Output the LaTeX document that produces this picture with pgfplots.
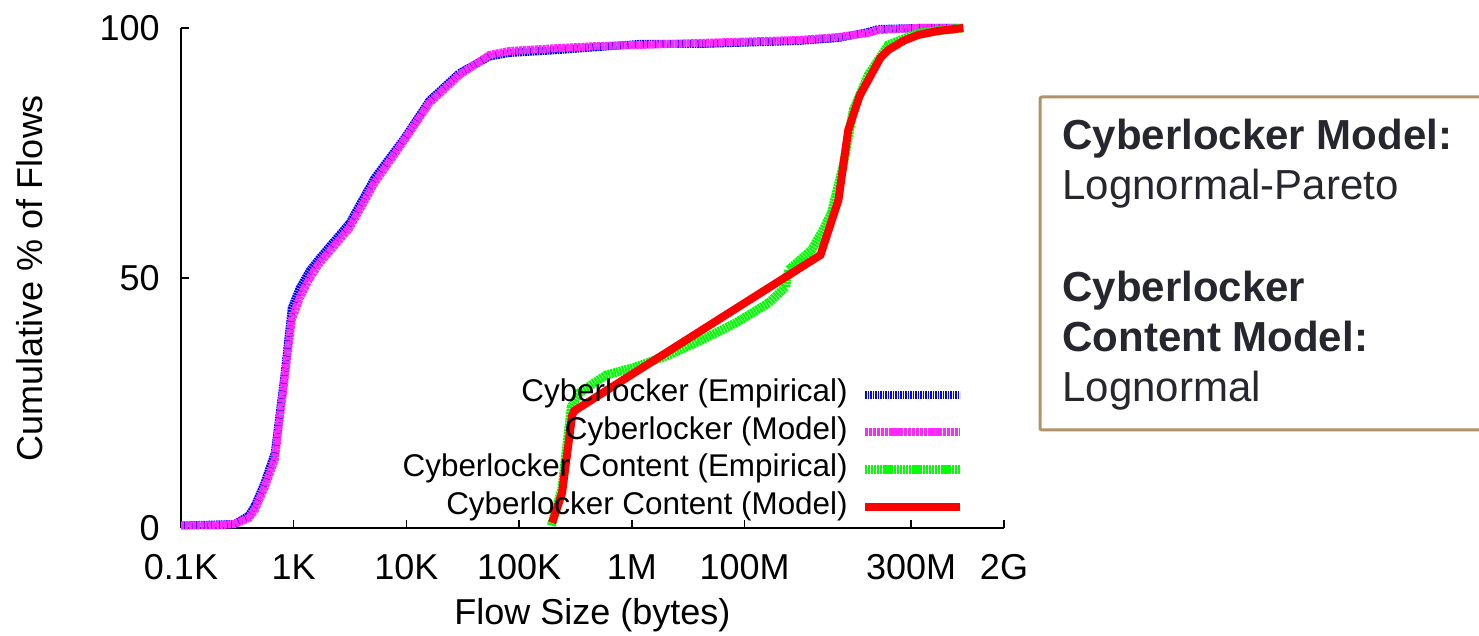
\documentclass[border=0pt]{standalone}
\usepackage{fontspec}
\setmainfont{Liberation Sans}
\usepackage{pgfplots}
\pgfplotsset{compat=1.18}
\definecolor{boxbrown}{RGB}{176,146,104}
\definecolor{boxtext}{RGB}{38,38,46}
\definecolor{cblue}{RGB}{0,0,255}
\definecolor{cmag}{RGB}{255,40,255}
\definecolor{cgreen}{RGB}{0,255,0}
\definecolor{cred}{RGB}{255,0,0}
\begin{document}
\begin{tikzpicture}
\begin{axis}[
  scale only axis, width=411.5pt, height=250pt,
  xmode=log, xmin=100, xmax=2e9, ymin=0, ymax=100,
  clip=false,
  axis x line*=bottom, axis y line*=left,
  axis line style={line width=0.75pt,-},
  tick style={line width=0.75pt,black},
  tick align=inside, major tick length=4pt,
  xminorticks=false, yminorticks=false,
  xtick={1e2,1e3,1e4,1e5,1e6,1e7,3e8,2e9},
  xticklabels={0.1K,1K,10K,100K,1M,100M,300M,2G},
  ytick={0,50,100}, yticklabels={0,50,100},
  /pgf/number format/assume math mode=true,
  tick label style={font=\fontsize{18}{20}\selectfont, inner sep=0pt},
  xticklabel style={anchor=base, yshift=-26pt},
  yticklabel style={anchor=east, xshift=-10.5pt},
  xlabel={Flow Size (bytes)}, ylabel={Cumulative \% of Flows},
  label style={font=\fontsize{18}{20}\selectfont},
  xlabel style={at={(axis description cs:0.5,0)}, anchor=center, yshift=-43.5pt},
  ylabel style={at={(axis description cs:-0.1835,0.5)}, anchor=center},
  legend plot pos=right, legend cell align=right,
  legend image code/.code={\path (0pt,0pt); \draw[#1] (6.5pt,0pt) -- (54pt,0pt);},
  legend style={font=\fontsize{15.7}{18}\selectfont, draw=none, fill=none,
    inner sep=0pt, row sep=2.8pt,
    nodes={inner sep=0pt, text height=11.5pt, text depth=4.5pt},
    at={(rel axis cs:0.9527,0.0084)}, anchor=south east},
]
\addplot[cblue, line width=4pt, dash pattern=on 0.9pt off 0.35pt] coordinates {
(100,0.5) (300,0.8) (400,2.5) (452,4.5) (550,9) (679,15) (832,31) (960,44)
(1130,48) (1387,51.5) (1700,54) (3130,61) (5210,70) (9600,78) (16000,85.5)
(29500,91) (54400,94.3) (81700,95) (226000,95.6) (510000,96.2) (1.15e6,96.8)
(3.92e6,96.8) (3.0e7,97.4) (6.8e7,98) (1.25e8,99.2) (1.53e8,99.8) (3.47e8,100) (7.8e8,100)
};
\addlegendentry{Cyberlocker (Empirical)}
\addplot[cmag, line width=4pt, dash pattern=on 1.6pt off 0.35pt] coordinates {
(100,0.5) (200,0.5) (300,0.8) (400,2) (452,3.6) (550,8) (679,13.6) (832,30)
(960,41.6) (1130,46) (1387,50) (1700,53) (3130,60) (5210,69) (9600,77.6)
(16000,85) (29500,90.6) (54400,94.6) (81700,95.4) (226000,96) (510000,96.4)
(1.15e6,96.6) (3.92e6,97.0) (3.0e7,97.6) (6.8e7,98.2) (1.25e8,99.0) (1.53e8,99.6)
(3.47e8,100) (8.7e8,100)
};
\addlegendentry{Cyberlocker (Model)}
\addplot[cgreen, line width=4.5pt, dash pattern=on 1.1pt off 0.35pt] coordinates {
(1.93e5,0.5) (2.40e5,8) (2.90e5,24.2) (3.4e5,27) (5.9e5,30.6) (1.08e6,32.2)
(2.12e6,34.6) (4.16e6,37.6) (8.3e6,41) (1.63e7,45) (2.31e7,48.2) (2.45e7,51.6)
(3.92e7,55.6) (4.8e7,59) (5.89e7,63) (7.5e7,72.6) (9.2e7,83.6) (1.25e8,90.6)
(1.88e8,96.6) (3.47e8,99) (8.7e8,100)
};
\addlegendentry{Cyberlocker Content (Empirical)}
\addplot[cred, line width=4pt] coordinates {
(1.96e5,1) (2.40e5,7) (2.95e5,22.5) (3.07e5,23.4) (4.71e7,54.6) (6.8e7,65.6)
(8.3e7,79.6) (1.05e8,86.5) (1.25e8,89.6) (1.6e8,94) (1.88e8,95.6) (2.6e8,97.5) (3.47e8,98.6) (5.2e8,99.4) (8.7e8,100)
};
\addlegendentry{Cyberlocker Content (Model)}
\end{axis}
\draw[boxbrown, line width=1.5pt, rounded corners=1pt]
  (660pt,215.5pt) -- (429.5pt,215.5pt) -- (429.5pt,49pt) -- (660pt,49pt);
\begin{scope}[every node/.style={anchor=base west, inner sep=0pt, text=boxtext}]
\node[font=\fontsize{21}{25}\selectfont\bfseries] at (440.5pt,189pt) {Cyberlocker Model:};
\node[font=\fontsize{21}{25}\selectfont] at (440.5pt,164pt) {Lognormal-Pareto};
\node[font=\fontsize{21}{25}\selectfont\bfseries] at (440.5pt,113pt) {Cyberlocker};
\node[font=\fontsize{21}{25}\selectfont\bfseries] at (440.5pt,88pt) {Content Model:};
\node[font=\fontsize{21}{25}\selectfont] at (440.5pt,63pt) {Lognormal};
\end{scope}
\pgfresetboundingbox
\useasboundingbox (-90.5pt,-54pt) rectangle (649pt,264pt);
\end{tikzpicture}
\end{document}
